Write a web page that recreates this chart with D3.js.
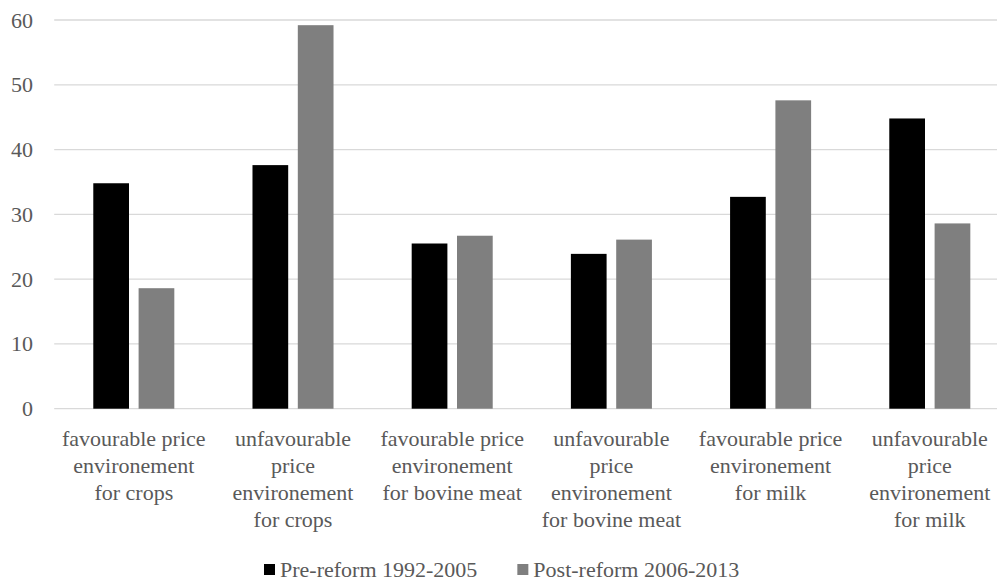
<!DOCTYPE html>
<html>
<head>
<meta charset="utf-8">
<script src="https://cdn.jsdelivr.net/npm/d3@7"></script>
<style>
  body { margin: 0; background: #fff; }
  svg text { font-family: "Times New Roman", Times, Tinos, "Liberation Serif", "DejaVu Serif", "Noto Serif", serif; fill: #595959; }
</style>
</head>
<body>
<div id="chart"></div>
<script>
// data
var categories = [
  "favourable price environement for crops",
  "unfavourable price environement for crops",
  "favourable price environement for bovine meat",
  "unfavourable price environement for bovine meat",
  "favourable price environement for milk",
  "unfavourable price environement for milk"
];
// the category labels as they break in the picture
var categoryLines = [
  ["favourable price", "environement", "for crops"],
  ["unfavourable", "price", "environement", "for crops"],
  ["favourable price", "environement", "for bovine meat"],
  ["unfavourable", "price", "environement", "for bovine meat"],
  ["favourable price", "environement", "for milk"],
  ["unfavourable", "price", "environement", "for milk"]
];
var seriesNames = ["Pre-reform 1992-2005", "Post-reform 2006-2013"];
var preReform = [34.8, 37.6, 25.5, 23.9, 32.7, 44.8];
var postReform = [18.6, 59.2, 26.7, 26.1, 47.6, 28.6];
var yTicks = [0, 10, 20, 30, 40, 50, 60];
var colors = ["#000000", "#7f7f7f"];

var svgWidth = 997;
var svgHeight = 582;

var margin = { top: 20, left: 54.2 };
var plotRight = 1009.4;   // the plot runs past the right edge of the picture
var plotBottom = 408.7;

var svg = d3.select("#chart")
  .append("svg")
  .attr("width", svgWidth)
  .attr("height", svgHeight);

var rows = categories.map(function(c, i) {
  return { cat: c, lines: categoryLines[i], values: [preReform[i], postReform[i]] };
});

// scales
var x0 = d3.scaleBand()
  .domain(categories)
  .range([margin.left, plotRight])
  .paddingInner(0.491)
  .paddingOuter(0.2455);

var x1 = d3.scaleBand()
  .domain(seriesNames)
  .range([0, x0.bandwidth()])
  .paddingInner(0.212);

var y = d3.scaleLinear()
  .domain([0, 60])
  .range([plotBottom, margin.top]);

// gridlines
svg.append("g")
  .selectAll("line")
  .data(yTicks)
  .enter()
  .append("line")
  .attr("x1", margin.left)
  .attr("x2", svgWidth)
  .attr("y1", d => y(d))
  .attr("y2", d => y(d))
  .attr("stroke", "#d9d9d9")
  .attr("stroke-width", 1.3);

// y axis labels
var leftAxis = d3.axisLeft(y).tickValues(yTicks).tickSize(0).tickPadding(0);
var yAxis = svg.append("g")
  .attr("transform", "translate(33, 0)")
  .call(leftAxis)
  .attr("font-family", null)
  .attr("font-size", "22px");
yAxis.select(".domain").remove();
yAxis.selectAll("text")
  .attr("fill", "#595959");

// bars
var groups = svg.append("g")
  .selectAll("g")
  .data(rows)
  .enter()
  .append("g")
  .attr("transform", d => `translate(${x0(d.cat)}, 0)`);

groups.selectAll("rect")
  .data(d => d.values.map((v, i) => ({ key: seriesNames[i], value: v, i: i })))
  .enter()
  .append("rect")
  .attr("x", d => x1(d.key))
  .attr("width", x1.bandwidth())
  .attr("y", d => y(d.value))
  .attr("height", d => y(0) - y(d.value))
  .attr("fill", d => colors[d.i]);

// category labels
svg.append("g")
  .selectAll("text")
  .data(rows)
  .enter()
  .append("text")
  .attr("text-anchor", "middle")
  .attr("font-size", "22px")
  .each(function(d) {
    var cx = x0(d.cat) + x0.bandwidth() / 2;
    d3.select(this).selectAll("tspan")
      .data(d.lines)
      .enter()
      .append("tspan")
      .attr("x", cx)
      .attr("y", (l, j) => 446 + j * 27)
      .text(l => l);
  });

// legend
var legend = svg.append("g");
var lx = 264;
seriesNames.forEach(function(name, i) {
  legend.append("rect")
    .attr("x", lx)
    .attr("y", 564)
    .attr("width", 11)
    .attr("height", 11)
    .attr("fill", colors[i]);
  var t = legend.append("text")
    .attr("x", lx + 16)
    .attr("y", 577)
    .attr("font-size", "22px")
    .text(name);
  lx += 16 + t.node().getComputedTextLength() + 40;
});
</script>
</body>
</html>
